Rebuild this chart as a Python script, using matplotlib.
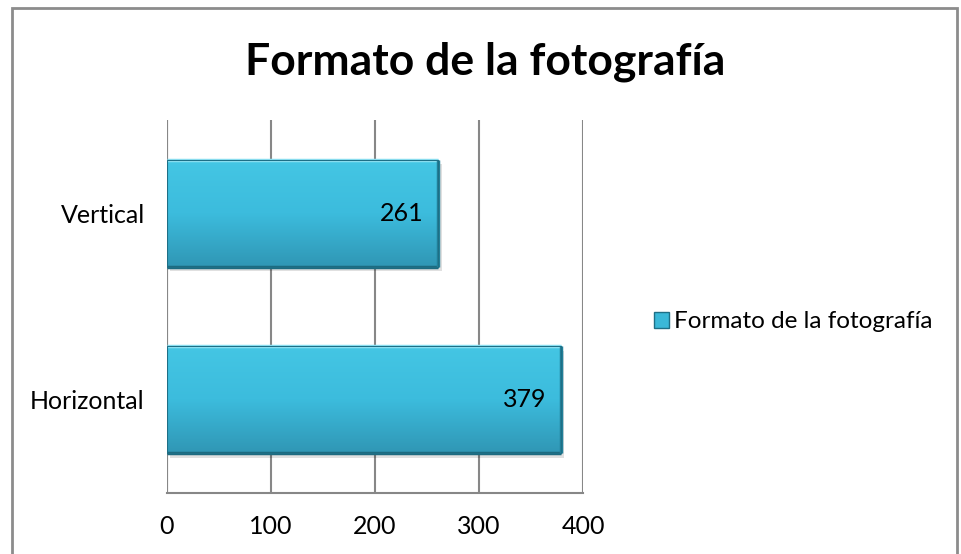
import numpy as np
import matplotlib
matplotlib.use("Agg")
import matplotlib.pyplot as plt
from matplotlib.patches import Rectangle

# Daten
categories = ["Horizontal", "Vertical"]
values = [379, 261]
series_name = "Formato de la fotografía"
xticks = [0, 100, 200, 300, 400]

plt.rcParams["font.family"] = ["Lato", "DejaVu Sans"]

fig = plt.figure(figsize=(9.61, 5.54), dpi=100)
ax = fig.add_axes([167 / 961, 1 - 493 / 554, 416 / 961, 373 / 554])

y = np.arange(len(categories))
bar_h = 0.574
bars = ax.barh(y, values, height=bar_h, color="#3AB8D8", edgecolor="#1E6F86",
               linewidth=1.0, zorder=3, label=series_name)

# leichter Verlauf + Schatten auf den Balken
grad = np.linspace(0, 1, 100).reshape(-1, 1)
cmap = matplotlib.colors.LinearSegmentedColormap.from_list("b", ["#3097B5", "#3CBCDD", "#44C6E4"])
for b in bars:
    x0, y0 = b.get_x(), b.get_y()
    w, h = b.get_width(), b.get_height()
    sh = Rectangle((x0 + 3, y0 - 0.025), w, h, facecolor="#000000", alpha=0.12,
                   edgecolor="none", zorder=2)
    ax.add_patch(sh)
    im = ax.imshow(grad, cmap=cmap, extent=[x0, x0 + w, y0, y0 + h], aspect="auto",
                   origin="lower", zorder=3.5)
    im.set_clip_path(b)
    # Kanten (Bevel)
    ax.plot([x0, x0 + w], [y0 + h, y0 + h], color="#8FE3F5", lw=2.5, zorder=4,
            solid_capstyle="butt")
    ax.plot([x0, x0 + w], [y0, y0], color="#1D6B80", lw=2.5, zorder=4,
            solid_capstyle="butt")
    ax.plot([x0 + w, x0 + w], [y0, y0 + h], color="#22809A", lw=2.5, zorder=4,
            solid_capstyle="butt")
    ax.add_patch(Rectangle((x0, y0), w, h, facecolor="none", edgecolor="#1E6F86",
                           lw=0.8, zorder=4.5))

for yi, v in zip(y, values):
    ax.text(v - 14, yi, str(v), ha="right", va="center", fontsize=18, color="black",
            zorder=5)

ax.set_xlim(0, 400)
ax.set_ylim(-0.5, 1.5)
ax.set_xticks(xticks)
ax.set_yticks(y)
ax.set_yticklabels(categories)
ax.tick_params(axis="x", length=0, pad=16, labelsize=18)
ax.tick_params(axis="y", length=0, pad=16, labelsize=18)
ax.grid(axis="x", color="#878787", linewidth=1.5, zorder=1)
for s in ["top", "right", "left"]:
    ax.spines[s].set_visible(False)
ax.spines["bottom"].set_color("#878787")
ax.spines["bottom"].set_linewidth(1.5)
ax.axvline(0, color="#878787", lw=1.5, zorder=1)

fig.text(485 / 961, 1 - 62 / 554, "Formato de la fotografía", ha="center", va="center",
         fontsize=32, fontweight="bold")

leg = fig.legend(handles=[Rectangle((0, 0), 1, 1, facecolor="#3AB8D8", edgecolor="#1E6F86")],
                 labels=[series_name], loc="center right",
                 bbox_to_anchor=(932 / 961, 1 - 322 / 554), frameon=False, fontsize=17.5,
                 handlelength=0.6, handleheight=0.6, handletextpad=0.2, borderpad=0,
                 borderaxespad=0)

# Rahmen um das Diagramm
fig.patches.append(Rectangle((12 / 961, -0.05), 945 / 961, 1.05 - 8 / 554,
                             transform=fig.transFigure, fill=False,
                             edgecolor="#8C8C8C", linewidth=2))

fig.savefig("out.png", dpi=100)
